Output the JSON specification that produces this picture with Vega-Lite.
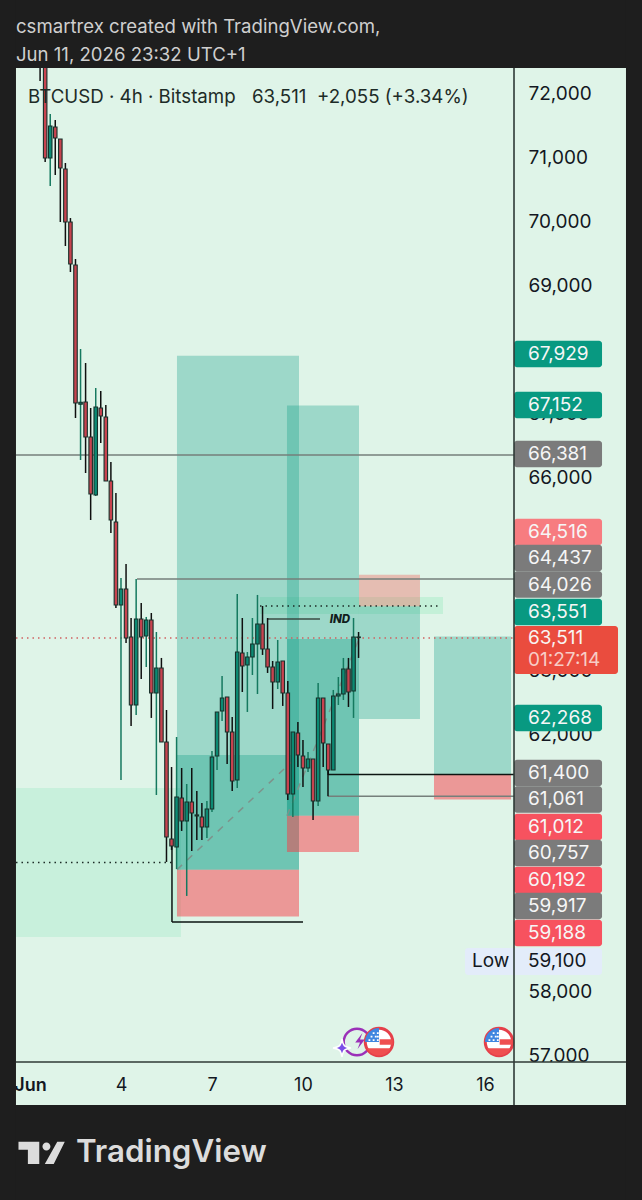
{"$schema":"https://vega.github.io/schema/vega-lite/v6.json","width":642,"height":1200,"padding":0,"autosize":{"type":"fit","contains":"padding"},"background":"#1e1e1e","view":{"fill":"#dff4e8","stroke":null},
"resolve":{"scale":{"fill":"independent"}},
"config":{"font":"Inter","scale":{"continuousPadding":0},"axis":{"grid":false,"domain":false,"ticks":false,"labelFont":"Inter","labelColor":"#131722","labelBound":false,"labelFlush":false,"labelOverlap":false}},
"datasets":{
"candles":[
{"day":1.333,"open":73400,"close":72500,"high":73400,"low":72187},
{"day":1.5,"open":73400,"close":70987,"high":73400,"low":70924},
{"day":1.667,"open":70987,"close":71486,"high":71673,"low":70550},
{"day":1.833,"open":71470,"close":71299,"high":71579,"low":70722},
{"day":2,"open":71283,"close":70831,"high":71283,"low":69989},
{"day":2.167,"open":70815,"close":69989,"high":70909,"low":69615},
{"day":2.333,"open":69989,"close":69334,"high":70051,"low":69210},
{"day":2.5,"open":69319,"close":67168,"high":69412,"low":66934},
{"day":2.667,"open":67150,"close":67180,"high":68009,"low":66279},
{"day":2.833,"open":67183,"close":66638,"high":67791,"low":66076},
{"day":3,"open":66638,"close":65749,"high":67090,"low":65344},
{"day":3.167,"open":65733,"close":67105,"high":67401,"low":65718},
{"day":3.333,"open":67090,"close":66965,"high":67355,"low":66544},
{"day":3.5,"open":66949,"close":65952,"high":67136,"low":65950},
{"day":3.667,"open":65952,"close":65344,"high":66248,"low":65141},
{"day":3.833,"open":65313,"close":64019,"high":65765,"low":63972},
{"day":4,"open":64019,"close":64268,"high":64440,"low":61291},
{"day":4.167,"open":64268,"close":63505,"high":64658,"low":63427},
{"day":4.333,"open":63520,"close":62460,"high":63816,"low":62133},
{"day":4.5,"open":62460,"close":63800,"high":64424,"low":62304},
{"day":4.667,"open":63800,"close":63520,"high":64050,"low":62865},
{"day":4.833,"open":63536,"close":63785,"high":63832,"low":63052},
{"day":5,"open":63785,"close":62647,"high":63894,"low":62258},
{"day":5.167,"open":62647,"close":63037,"high":63598,"low":61057},
{"day":5.333,"open":63037,"close":61883,"high":63193,"low":61883},
{"day":5.5,"open":61883,"close":60402,"high":62382,"low":60013},
{"day":5.667,"open":60371,"close":60262,"high":61493,"low":60200},
{"day":5.833,"open":60246,"close":61026,"high":61961,"low":59903},
{"day":6,"open":61010,"close":60652,"high":61478,"low":60496},
{"day":6.167,"open":60652,"close":60948,"high":61228,"low":59483},
{"day":6.333,"open":60948,"close":60777,"high":61478,"low":60184},
{"day":6.5,"open":60746,"close":60730,"high":61119,"low":60356},
{"day":6.667,"open":60714,"close":60558,"high":60932,"low":60356},
{"day":6.833,"open":60558,"close":60839,"high":60964,"low":60387},
{"day":7,"open":60839,"close":61650,"high":61743,"low":60792},
{"day":7.167,"open":61665,"close":62351,"high":62351,"low":61447},
{"day":7.333,"open":62366,"close":62569,"high":62912,"low":62210},
{"day":7.5,"open":62585,"close":62039,"high":62585,"low":61540},
{"day":7.667,"open":62039,"close":61275,"high":62273,"low":61119},
{"day":7.833,"open":61291,"close":63286,"high":64190,"low":61166},
{"day":8,"open":63270,"close":63068,"high":63816,"low":62662},
{"day":8.167,"open":63084,"close":63208,"high":63286,"low":62351},
{"day":8.333,"open":63208,"close":63411,"high":63816,"low":62927},
{"day":8.5,"open":63411,"close":63723,"high":64175,"low":62631},
{"day":8.667,"open":63723,"close":63333,"high":64003,"low":63240},
{"day":8.833,"open":63333,"close":63052,"high":63816,"low":62959},
{"day":9,"open":63052,"close":62818,"high":63146,"low":62398},
{"day":9.167,"open":62818,"close":63130,"high":63473,"low":62709},
{"day":9.333,"open":63146,"close":62647,"high":63146,"low":62445},
{"day":9.5,"open":62647,"close":61073,"high":62834,"low":60979},
{"day":9.667,"open":61073,"close":62039,"high":62039,"low":60714},
{"day":9.833,"open":62023,"close":61681,"high":62195,"low":61493},
{"day":10,"open":61665,"close":61478,"high":61914,"low":61182},
{"day":10.167,"open":61478,"close":61618,"high":61727,"low":61416},
{"day":10.333,"open":61618,"close":60964,"high":61618,"low":60668},
{"day":10.5,"open":60964,"close":62569,"high":62803,"low":60885},
{"day":10.667,"open":62569,"close":61868,"high":62569,"low":61493},
{"day":10.833,"open":61852,"close":61447,"high":61852,"low":61370},
{"day":11,"open":61447,"close":62600,"high":62694,"low":61447},
{"day":11.167,"open":62600,"close":62630,"high":62896,"low":62460},
{"day":11.333,"open":62631,"close":63021,"high":63193,"low":62538},
{"day":11.5,"open":63021,"close":62662,"high":63193,"low":62429},
{"day":11.667,"open":62678,"close":63520,"high":63816,"low":62258},
{"day":11.833,"open":63520,"close":63511,"high":63598,"low":63193}],
"boxes":[
{"kind":"zone","x1":0.538,"x2":5.978,"p1":58844,"p2":61166},
{"kind":"zoneSoft","x1":8.583,"x2":14.617,"p1":63879,"p2":64144},
{"kind":"target","x1":5.846,"x2":9.869,"p1":59892,"p2":67904},
{"kind":"target","x1":5.846,"x2":9.869,"p1":59892,"p2":61681},
{"kind":"stop","x1":5.846,"x2":9.869,"p1":59163,"p2":59892},
{"kind":"target","x1":9.473,"x2":11.847,"p1":60732,"p2":67127},
{"kind":"target","x1":9.473,"x2":11.847,"p1":60732,"p2":63490},
{"kind":"stop","x1":9.473,"x2":11.847,"p1":60167,"p2":60732},
{"kind":"target","x1":11.847,"x2":13.858,"p1":62243,"p2":64001},
{"kind":"stopSoft","x1":11.847,"x2":13.858,"p1":64001,"p2":64491},
{"kind":"target","x1":14.32,"x2":16.859,"p1":61375,"p2":63526},
{"kind":"stop","x1":14.32,"x2":16.859,"p1":60987,"p2":61375}],
"lines":[
{"kind":"level","x1":0.538,"x2":16.958,"p1":66356,"p2":66356},
{"kind":"level","x1":4.528,"x2":16.958,"p1":64424,"p2":64424},
{"kind":"level","x1":10.825,"x2":16.958,"p1":61036,"p2":61036},
{"kind":"price","x1":0.538,"x2":16.958,"p1":63505,"p2":63505},
{"kind":"dots","x1":8.583,"x2":14.518,"p1":64003,"p2":64003},
{"kind":"dots","x1":0.538,"x2":5.681,"p1":60005,"p2":60005},
{"kind":"bracket","x1":5.681,"x2":5.681,"p1":60262,"p2":59075},
{"kind":"bracket","x1":5.681,"x2":10.001,"p1":59075,"p2":59075},
{"kind":"bracket","x1":10.825,"x2":16.958,"p1":61375,"p2":61375},
{"kind":"bracket","x1":10.825,"x2":10.825,"p1":61447,"p2":61036},
{"kind":"ind","x1":8.847,"x2":10.561,"p1":63801,"p2":63801},
{"kind":"dash","x1":5.846,"x2":9.869,"p1":59892,"p2":61681},
{"kind":"dash","x1":9.473,"x2":11.847,"p1":60732,"p2":63490}],
"tags":[
{"label":"67,929","slot":67931,"kind":"long"},
{"label":"67,152","slot":67137,"kind":"long"},
{"label":"66,381","slot":66373,"kind":"level"},
{"label":"64,516","slot":65157,"kind":"stopSoft"},
{"label":"64,437","slot":64752,"kind":"level"},
{"label":"64,026","slot":64338,"kind":"level"},
{"label":"63,551","slot":63910,"kind":"long"},
{"label":"62,268","slot":62257,"kind":"long"},
{"label":"61,400","slot":61400,"kind":"level"},
{"label":"61,061","slot":60987,"kind":"level"},
{"label":"61,012","slot":60558,"kind":"stop"},
{"label":"60,757","slot":60153,"kind":"level"},
{"label":"60,192","slot":59732,"kind":"stop"},
{"label":"59,917","slot":59327,"kind":"level"},
{"label":"59,188","slot":58906,"kind":"stop"}],
"frame":[
{"x1":0.011,"x2":21.178,"p1":72390,"p2":73450},
{"x1":0.011,"x2":21.178,"p1":54743,"p2":56225},
{"x1":0.011,"x2":0.538,"p1":54743,"p2":73450},
{"x1":20.65,"x2":21.178,"p1":54743,"p2":73450}],
"flags":[{"day":12.507,"price":57207},{"day":16.463,"price":57207}]
},
"layer":[
{"data":{"name":"boxes"},"mark":{"type":"rect"},"encoding":{
"x":{"field":"x1","type":"quantitative","scale":{"domain":[0.011,21.178],"nice":false,"zero":false,"padding":0},"axis":{"title":null,"orient":"bottom","offset":-138,"values":[1,4,7,10,13,16],"format":"d","labelFontSize":18,"labelPadding":14,"labelAngle":0,"labelAlign":"center","labelExpr":"datum.value==1?'Jun':datum.label","labelFontWeight":{"condition":{"test":"datum.value==1","value":600},"value":400}}},
"x2":{"field":"x2"},
"y":{"field":"p1","type":"quantitative","scale":{"domain":[54743,73450],"nice":false,"zero":false,"padding":0},"axis":{"title":null,"orient":"right","offset":-128,"values":[72000,71000,70000,69000,67000,66000,63000,62000,58000,57000],"format":",d","labelFontSize":19,"labelPadding":14,"labelAlign":"left"}},
"y2":{"field":"p2"},
"fill":{"field":"kind","type":"nominal","legend":null,"scale":{"domain":["zone","zoneSoft","target","stop","stopSoft"],"range":["#c8f0dc","rgba(170,235,200,0.5)","rgba(8,153,129,0.3)","rgba(247,60,70,0.5)","rgba(242,80,70,0.33)"]}}}},
{"data":{"name":"lines"},"mark":{"type":"rule"},"encoding":{
"x":{"field":"x1","type":"quantitative"},"x2":{"field":"x2"},
"y":{"field":"p1","type":"quantitative"},"y2":{"field":"p2"},
"stroke":{"field":"kind","type":"nominal","legend":null,"scale":{"domain":["level","price","dots","bracket","ind","dash"],"range":["#757f7b","#d0605f","#1c2b26","#0d1512","#3a4a44","#7d938c"]}},
"strokeDash":{"field":"kind","type":"nominal","legend":null,"scale":{"domain":["level","price","dots","bracket","ind","dash"],"range":[[1,0],[1.5,4],[1.5,4],[1,0],[1,0],[7,7]]}},
"strokeWidth":{"field":"kind","type":"ordinal","legend":null,"scale":{"domain":["level","price","dots","bracket","ind","dash"],"range":[1.5,1.5,1.5,2,1.5,1.6]}}}},
{"data":{"name":"candles"},"mark":{"type":"rule","strokeWidth":1.5},"encoding":{
"x":{"field":"day","type":"quantitative"},
"y":{"field":"low","type":"quantitative"},"y2":{"field":"high"},
"color":{"condition":{"test":"datum.close>=datum.open","value":"#15795f"},"value":"#0f0f0f"}}},
{"data":{"name":"candles"},"mark":{"type":"bar","orient":"vertical","size":3.5,"stroke":"#16302a","strokeWidth":1.1},"encoding":{
"x":{"field":"day","type":"quantitative"},
"y":{"field":"open","type":"quantitative"},"y2":{"field":"close"},
"fill":{"condition":{"test":"datum.close>=datum.open","value":"#0c8a73"},"value":"#c8434f"}}},
{"data":{"values":[{"t":"IND","day":11.22,"price":63785}]},"mark":{"type":"text","font":"Inter","fontSize":11.5,"fontWeight":800,"fontStyle":"italic","color":"#10201b","align":"center","baseline":"middle"},"encoding":{"x":{"field":"day","type":"quantitative"},"y":{"field":"price","type":"quantitative"},"text":{"field":"t"}}},
{"data":{"values":[{"t":"BTCUSD · 4h · Bitstamp","day":0.934,"price":71938},{"t":"63,511","day":8.319,"price":71938},{"t":"+2,055 (+3.34%)","day":10.462,"price":71938}]},"mark":{"type":"text","font":"Inter","fontSize":18.7,"color":"#1d2b27","align":"left","baseline":"middle"},"encoding":{"x":{"field":"day","type":"quantitative"},"y":{"field":"price","type":"quantitative"},"text":{"field":"t"}}},
{"data":{"values":[{"day":11.781,"price":57207}]},"mark":{"type":"point","shape":"circle","filled":false,"size":707,"stroke":"#9b30b8","strokeWidth":2.5,"opacity":1},"encoding":{"x":{"field":"day","type":"quantitative"},"y":{"field":"price","type":"quantitative"}}},
{"data":{"values":[{"day":11.88,"price":57222}]},"mark":{"type":"point","filled":true,"shape":"M0.3,-1 L-0.6,0.2 L0,0.2 L-0.3,1 L0.6,-0.2 L0,-0.2 Z","size":256,"fill":"#9b30b8","opacity":1},"encoding":{"x":{"field":"day","type":"quantitative"},"y":{"field":"price","type":"quantitative"}}},
{"data":{"values":[{"day":11.287,"price":57113}]},"mark":{"type":"point","filled":true,"shape":"M0,-1 C0.12,-0.25 0.25,-0.12 1,0 C0.25,0.12 0.12,0.25 0,1 C-0.12,0.25 -0.25,0.12 -1,0 C-0.25,-0.12 -0.12,-0.25 0,-1 Z","size":324,"fill":"#7b4fe8","stroke":"#ffffff","strokeWidth":1.5,"opacity":1},"encoding":{"x":{"field":"day","type":"quantitative"},"y":{"field":"price","type":"quantitative"}}},
{"data":{"name":"flags"},"mark":{"type":"point","shape":"circle","filled":true,"size":755,"fill":"#ffffff","stroke":"#e5404a","strokeWidth":3,"opacity":1},"encoding":{"x":{"field":"day","type":"quantitative"},"y":{"field":"price","type":"quantitative"}}},
{"data":{"name":"flags"},"mark":{"type":"point","filled":true,"shape":"M0,0 L-1,0 A1,1 0 0 1 0,-1 Z","size":784,"fill":"#3f86e0","opacity":1},"encoding":{"x":{"field":"day","type":"quantitative"},"y":{"field":"price","type":"quantitative"}}},
{"data":{"name":"flags"},"mark":{"type":"point","filled":true,"shape":"M0.05,-0.2 L0.98,-0.2 L0.98,0.2 L0.05,0.2 Z M-0.85,0.45 L0.85,0.45 A0.95,0.95 0 0 1 -0.85,0.45 Z","size":784,"fill":"#ef4f50","opacity":1},"encoding":{"x":{"field":"day","type":"quantitative"},"y":{"field":"price","type":"quantitative"}}},
{"data":{"name":"flags"},"mark":{"type":"point","filled":true,"shape":"M-0.75,-0.2h0.13v0.13h-0.13z M-0.45,-0.2h0.13v0.13h-0.13z M-0.15,-0.2h0.13v0.13h-0.13z M-0.6,-0.45h0.13v0.13h-0.13z M-0.3,-0.45h0.13v0.13h-0.13z M-0.45,-0.7h0.13v0.13h-0.13z M-0.15,-0.7h0.13v0.13h-0.13z M-0.15,-0.45h0.13v0.13h-0.13z","size":784,"fill":"#ffffff","opacity":1},"encoding":{"x":{"field":"day","type":"quantitative"},"y":{"field":"price","type":"quantitative"}}},
{"data":{"name":"tags"},"mark":{"type":"bar","orient":"horizontal","size":26.5,"cornerRadius":3},"encoding":{
"x":{"datum":16.958,"type":"quantitative"},"x2":{"datum":19.86},
"y":{"field":"slot","type":"quantitative"},
"fill":{"field":"kind","type":"nominal","legend":null,"scale":{"domain":["long","level","stop","stopSoft"],"range":["#089981","#7b7b7b","#f7525f","#f77c80"]}}}},
{"data":{"values":[{"slot":63317}]},"mark":{"type":"bar","orient":"horizontal","size":48,"cornerRadius":3,"fill":"#ea4c3e"},"encoding":{"x":{"datum":16.958,"type":"quantitative"},"x2":{"datum":20.387},"y":{"field":"slot","type":"quantitative"}}},
{"data":{"values":[{"slot":58462}]},"mark":{"type":"bar","orient":"horizontal","size":27,"cornerRadius":3,"fill":"#e3ecfa"},"encoding":{"x":{"datum":15.342,"type":"quantitative"},"x2":{"datum":19.86},"y":{"field":"slot","type":"quantitative"}}},
{"data":{"name":"tags"},"mark":{"type":"text","font":"Inter","fontSize":19,"color":"#f6f6f6","align":"left","baseline":"middle"},"encoding":{"x":{"datum":17.419,"type":"quantitative"},"y":{"field":"slot","type":"quantitative"},"text":{"field":"label"}}},
{"data":{"values":[{"t":"63,511","price":63505,"sub":"a"},{"t":"01:27:14","price":63162,"sub":"b"}]},"mark":{"type":"text","font":"Inter","fontSize":19,"align":"left","baseline":"middle"},"encoding":{"x":{"datum":17.419,"type":"quantitative"},"y":{"field":"price","type":"quantitative"},"text":{"field":"t"},"color":{"field":"sub","type":"nominal","legend":null,"scale":{"domain":["a","b"],"range":["#f8f4f2","#f7cdc6"]}}}},
{"data":{"values":[{"t":"59,100","day":17.419,"price":58462},{"t":"Low","day":15.573,"price":58462}]},"mark":{"type":"text","font":"Inter","fontSize":19,"color":"#131722","align":"left","baseline":"middle"},"encoding":{"x":{"field":"day","type":"quantitative"},"y":{"field":"price","type":"quantitative"},"text":{"field":"t"}}},
{"data":{"values":[{"x1":16.958,"x2":20.65,"p1":56225,"p2":56895}]},"mark":{"type":"rect","fill":"#dff4e8"},"encoding":{"x":{"field":"x1","type":"quantitative"},"x2":{"field":"x2"},"y":{"field":"p1","type":"quantitative"},"y2":{"field":"p2"}}},
{"data":{"values":[{"x1":16.958,"x2":16.958,"p1":72390,"p2":56225},{"x1":0.538,"x2":20.65,"p1":56895,"p2":56895}]},"mark":{"type":"rule","stroke":"#2f3a36","strokeWidth":1.6},"encoding":{"x":{"field":"x1","type":"quantitative"},"x2":{"field":"x2"},"y":{"field":"p1","type":"quantitative"},"y2":{"field":"p2"}}},
{"data":{"name":"frame"},"mark":{"type":"rect","fill":"#1e1e1e"},"encoding":{"x":{"field":"x1","type":"quantitative"},"x2":{"field":"x2"},"y":{"field":"p1","type":"quantitative"},"y2":{"field":"p2"}}},
{"data":{"values":[{"t":"csmartrex created with TradingView.com,","day":0.538,"price":73029},{"t":"Jun 11, 2026 23:32 UTC+1","day":0.538,"price":72592}]},"mark":{"type":"text","font":"Inter","fontSize":18.6,"color":"#cfcfcf","align":"left","baseline":"middle"},"encoding":{"x":{"field":"day","type":"quantitative"},"y":{"field":"price","type":"quantitative"},"text":{"field":"t"}}},
{"data":{"values":[{"t":"TradingView","day":2.516,"price":55477}]},"mark":{"type":"text","font":"Inter","fontSize":31.3,"fontWeight":600,"color":"#dcdcdc","align":"left","baseline":"middle"},"encoding":{"x":{"field":"day","type":"quantitative"},"y":{"field":"price","type":"quantitative"},"text":{"field":"t"}}},
{"data":{"values":[{"day":1.372,"price":55477}]},"mark":{"type":"point","filled":true,"size":2209,"fill":"#dcdcdc","opacity":1,"shape":"M-0.97,-0.47 L-0.085,-0.47 L-0.085,0.47 L-0.57,0.47 L-0.57,-0.13 L-0.97,-0.13 Z M0.05,-0.27 A0.17,0.17 0 1 1 0.39,-0.27 A0.17,0.17 0 1 1 0.05,-0.27 Z M0.68,-0.47 L1,-0.47 L0.53,0.47 L0.15,0.47 Z"},"encoding":{"x":{"field":"day","type":"quantitative"},"y":{"field":"price","type":"quantitative"}}}
]}
